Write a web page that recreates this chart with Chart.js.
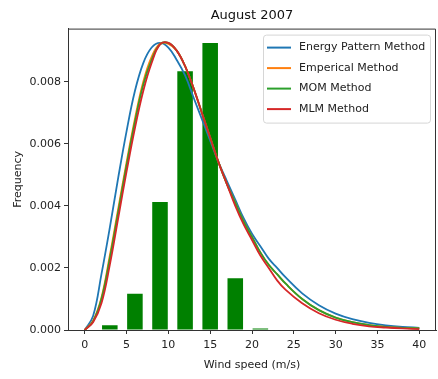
<!DOCTYPE html>
<html>
<head>
<meta charset="utf-8">
<script src="https://cdn.jsdelivr.net/npm/chart.js@4"></script>
<style>
  html, body { margin: 0; padding: 0; background: #fff; }
  #wrap { width: 438px; height: 379px; }
</style>
</head>
<body>
<div id="wrap"><canvas id="myChart" width="438" height="379"></canvas></div>
<script>
const FONT = "'DejaVu Sans', sans-serif";

const windX = [0, 1, 2, 3, 4, 5, 6, 7, 8, 9, 10, 11, 12, 13, 14, 15, 16, 17, 18, 19, 20,
    21, 22, 23, 24, 26, 28, 30, 32, 34, 36, 38, 40];

const energyPattern = [0, 0.00045, 0.0018, 0.0033, 0.0049, 0.0064, 0.0077, 0.0086, 0.0091, 0.00925, 0.0091,
    0.0087, 0.0082, 0.0075, 0.0068, 0.0061, 0.0054, 0.0048, 0.0042, 0.0036, 0.0031,
    0.0027, 0.0023, 0.0020, 0.0017, 0.00118, 0.0008, 0.00053, 0.00035, 0.00023, 0.00015, 0.0001, 0.00007];

const emperical = [0, 0.0003, 0.00105, 0.0024, 0.0039, 0.0054, 0.0068, 0.0080, 0.0088, 0.00922, 0.00922,
    0.0090, 0.0085, 0.0078, 0.0070, 0.0062, 0.0054, 0.0047, 0.0041, 0.0035, 0.0030,
    0.0025, 0.0021, 0.0018, 0.0015, 0.001, 0.00064, 0.0004, 0.00025, 0.00016, 0.0001, 0.00007, 0.00005];

const mom = [0, 0.00028, 0.001, 0.0023, 0.0038, 0.0053, 0.0067, 0.0079, 0.0087, 0.0092, 0.00925,
    0.0090, 0.0085, 0.0078, 0.0070, 0.0062, 0.0054, 0.0047, 0.0041, 0.0035, 0.0030,
    0.0025, 0.0021, 0.0018, 0.0015, 0.001, 0.00064, 0.0004, 0.00025, 0.00016, 0.0001, 0.00007, 0.00005];

const mlm = [0, 0.00025, 0.00086, 0.0021, 0.0036, 0.0051, 0.0065, 0.0077, 0.0086, 0.0092, 0.00925,
    0.0090, 0.0085, 0.0078, 0.0070, 0.0062, 0.0054, 0.0047, 0.0040, 0.0034, 0.0029,
    0.0024, 0.0020, 0.0016, 0.0013, 0.00086, 0.00054, 0.00033, 0.0002, 0.00012, 0.00008, 0.00005, 0.00003];

// histogram of measured wind speed
const binCenters = [3, 6, 9, 12, 15, 18, 21];
const binFreq = [0.00015, 0.00117, 0.00412, 0.00834, 0.00925, 0.00167, 0.00005];

const xTicks = [0, 5, 10, 15, 20, 25, 30, 35, 40];
const yTicks = [0, 0.002, 0.004, 0.006, 0.008];

const toPoints = ys => windX.map((x, i) => ({ x: x, y: ys[i] }));

function lineSet(label, ys, color, order) {
    return {
        type: 'line',
        label: label,
        data: toPoints(ys),
        borderColor: color,
        backgroundColor: color,
        borderWidth: 1.8,
        pointRadius: 0,
        tension: 0.4,
        order: order
    };
}

// legend + top/right spines, drawn inside the plot like matplotlib does
const boxPlugin = {
    id: 'boxPlugin',
    afterDraw(chart) {
        const ctx = chart.ctx;
        const a = chart.chartArea;
        ctx.save();
        ctx.strokeStyle = '#333';
        ctx.lineWidth = 1;
        ctx.beginPath();
        ctx.moveTo(a.left, a.top + 0.5);
        ctx.lineTo(a.right - 0.5, a.top + 0.5);
        ctx.lineTo(a.right - 0.5, a.bottom);
        ctx.stroke();

        const sets = chart.data.datasets.filter(d => d.type === 'line');
        const w = 167, rowH = 20.5;
        const h = sets.length * rowH + 6;
        const x0 = a.right - 6 - w, y0 = a.top + 6;
        ctx.fillStyle = 'rgba(255,255,255,0.85)';
        ctx.strokeStyle = '#d6d6d6';
        ctx.beginPath();
        ctx.roundRect(x0 + 0.5, y0 + 0.5, w, h, 3);
        ctx.fill();
        ctx.stroke();

        ctx.font = '11px ' + FONT;
        ctx.textBaseline = 'middle';
        sets.forEach((d, i) => {
            const yy = y0 + 13 + i * rowH;
            ctx.strokeStyle = d.borderColor;
            ctx.lineWidth = 2;
            ctx.beginPath();
            ctx.moveTo(x0 + 4, yy);
            ctx.lineTo(x0 + 28, yy);
            ctx.stroke();
            ctx.fillStyle = '#222';
            ctx.fillText(d.label, x0 + 36, yy);
        });
        ctx.restore();
    }
};

const ctx = document.getElementById('myChart').getContext('2d');
const myChart = new Chart(ctx, {
    data: {
        datasets: [
            lineSet('Energy Pattern Method', energyPattern, '#1f77b4', 4),
            lineSet('Emperical Method', emperical, '#ff7f0e', 3),
            lineSet('MOM Method', mom, '#2ca02c', 2),
            lineSet('MLM Method', mlm, '#d62728', 1),
            {
                type: 'bar',
                label: 'hist',
                data: binCenters.map((x, i) => ({ x: x, y: binFreq[i] })),
                backgroundColor: '#008000',
                borderWidth: 0,
                barPercentage: 0.62,
                categoryPercentage: 1,
                order: 10
            }
        ]
    },
    options: {
        responsive: false,
        animation: false,
        layout: { padding: { left: 0, right: 2, top: 0, bottom: 0 } },
        plugins: {
            legend: { display: false },
            tooltip: { enabled: false },
            title: {
                display: true,
                text: 'August 2007',
                fullSize: false,
                color: '#111',
                font: { family: FONT, size: 13, weight: 'normal' },
                padding: { top: 8, bottom: 5 }
            }
        },
        scales: {
            x: {
                type: 'linear',
                offset: false,
                min: -2,
                max: 42,
                afterBuildTicks: axis => { axis.ticks = xTicks.map(v => ({ value: v })); },
                afterFit: axis => { axis.height = 49; },
                grid: { offset: false, drawOnChartArea: false, drawTicks: true, tickLength: 4, color: '#333' },
                border: { color: '#333' },
                ticks: {
                    color: '#222',
                    padding: 5,
                    maxRotation: 0,
                    font: { family: FONT, size: 11 }
                },
                title: {
                    display: true,
                    text: 'Wind speed (m/s)',
                    color: '#222',
                    font: { family: FONT, size: 11 },
                    padding: { top: 0, bottom: 7 }
                }
            },
            y: {
                min: 0,
                max: 0.00971,
                afterBuildTicks: axis => { axis.ticks = yTicks.map(v => ({ value: v })); },
                afterFit: axis => { axis.width = 68; },
                grid: { drawOnChartArea: false, drawTicks: true, tickLength: 4, color: '#333' },
                border: { color: '#333' },
                ticks: {
                    color: '#222',
                    padding: 3,
                    font: { family: FONT, size: 11 },
                    callback: v => v.toFixed(3)
                },
                title: {
                    display: true,
                    text: 'Frequency',
                    color: '#222',
                    font: { family: FONT, size: 11 },
                    padding: { top: 12, bottom: 0 }
                }
            }
        }
    },
    plugins: [boxPlugin]
});
</script>
</body>
</html>
